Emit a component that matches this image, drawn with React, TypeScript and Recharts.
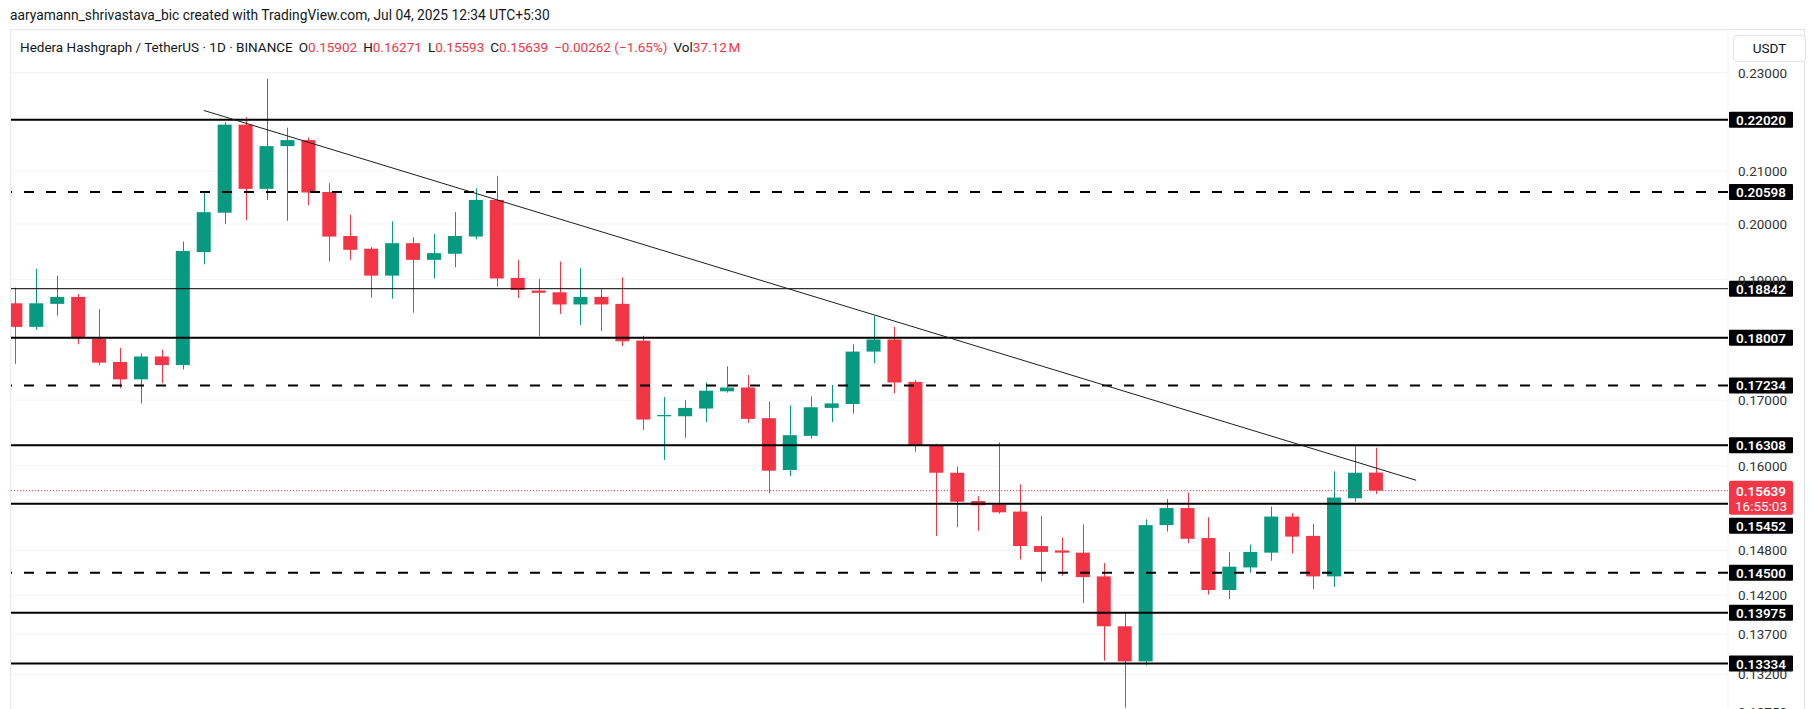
import React from 'react';
import { ComposedChart, Bar, XAxis, YAxis, CartesianGrid, ReferenceLine } from 'recharts';

// HBAR/USDT daily candles (oldest first)
const opens = [
  0.1859, 0.1819, 0.1858, 0.187, 0.1799, 0.1761, 0.1733, 0.177, 0.1756, 0.1949,
  0.2021, 0.2192, 0.2066, 0.2149, 0.2161, 0.206, 0.1978, 0.1955, 0.1907, 0.1965,
  0.1935, 0.1946, 0.1977, 0.2045, 0.1903, 0.1881, 0.1878, 0.1857, 0.187, 0.1858,
  0.1796, 0.1675, 0.1675, 0.1687, 0.1714, 0.172, 0.1672, 0.1594, 0.1645, 0.1688,
  0.1694, 0.1778, 0.1798, 0.1729, 0.1631, 0.159, 0.1549, 0.1544, 0.1534, 0.1486,
  0.148, 0.1477, 0.1445, 0.138, 0.1336, 0.1515, 0.1539, 0.1497, 0.1427, 0.1457,
  0.1477, 0.1527, 0.15, 0.1445, 0.1553, 0.15902,
];
const highs = [
  0.1886, 0.1919, 0.1907, 0.1875, 0.1849, 0.1784, 0.1775, 0.1781, 0.1968, 0.2062,
  0.2197, 0.2207, 0.2287, 0.2186, 0.2166, 0.2077, 0.2017, 0.1958, 0.2005, 0.1976,
  0.1982, 0.2022, 0.2067, 0.2091, 0.1935, 0.1901, 0.1932, 0.192, 0.1884, 0.1904,
  0.1804, 0.1705, 0.17, 0.1728, 0.1754, 0.174, 0.1698, 0.1692, 0.1706, 0.1724,
  0.179, 0.1838, 0.1819, 0.1732, 0.1633, 0.1599, 0.1556, 0.1635, 0.1573, 0.1528,
  0.1498, 0.1516, 0.1463, 0.1398, 0.1523, 0.1552, 0.1561, 0.1526, 0.1478, 0.1488,
  0.1541, 0.1532, 0.1517, 0.1592, 0.1629, 0.16271,
];
const lows = [
  0.1758, 0.1814, 0.1838, 0.179, 0.1756, 0.1719, 0.1695, 0.1727, 0.1749, 0.1927,
  0.2, 0.2007, 0.2045, 0.2006, 0.2035, 0.1932, 0.1935, 0.1869, 0.1867, 0.1843,
  0.1902, 0.1922, 0.1972, 0.1888, 0.1868, 0.1803, 0.1841, 0.1822, 0.1812, 0.1787,
  0.1654, 0.1609, 0.1642, 0.1666, 0.1712, 0.1665, 0.156, 0.1585, 0.1641, 0.1666,
  0.1679, 0.1759, 0.1711, 0.1621, 0.15, 0.1512, 0.1507, 0.1531, 0.1468, 0.1438,
  0.1446, 0.141, 0.1337, 0.128, 0.1331, 0.1506, 0.149, 0.1421, 0.1415, 0.145,
  0.1466, 0.1476, 0.1428, 0.1431, 0.1548, 0.15593,
];
const closes = [
  0.1819, 0.1859, 0.187, 0.18, 0.176, 0.1733, 0.177, 0.1756, 0.1951, 0.2022,
  0.2192, 0.2066, 0.2149, 0.2161, 0.2059, 0.1977, 0.1953, 0.1907, 0.1965, 0.1935,
  0.1947, 0.1978, 0.2045, 0.1902, 0.1882, 0.1877, 0.1857, 0.187, 0.1857, 0.1795,
  0.167, 0.1677, 0.1688, 0.1715, 0.172, 0.1671, 0.1593, 0.1646, 0.1689, 0.1695,
  0.1778, 0.1798, 0.1728, 0.1631, 0.159, 0.1548, 0.1543, 0.1533, 0.1486, 0.1478,
  0.1477, 0.1444, 0.138, 0.1336, 0.1515, 0.1539, 0.1496, 0.1427, 0.1458, 0.1478,
  0.1527, 0.1499, 0.1445, 0.1554, 0.159, 0.15639,
];

const priceTicks = [0.1275, 0.132, 0.137, 0.142, 0.148, 0.154, 0.16, 0.17, 0.18, 0.19, 0.2, 0.21, 0.22, 0.23];
// tick labels that sit fully behind a level tag on the price scale
const coveredTicks = [0.22, 0.18, 0.154];
const gridDays = [1, 4, 7, 10, 13, 16, 19, 22, 25, 28, 32, 35, 38, 41, 44, 47, 50, 53, 56, 59, 62, 65, 68, 71, 74, 77, 80];

// drawn support / resistance levels
const solidLevels = [0.2202, 0.18007, 0.16308, 0.15452, 0.13975, 0.13334];
const thinLevels = [0.18842];
const dashedLevels = [0.20598, 0.17234, 0.145];
const lastPrice = 0.15639;
const countdown = '16:55:03';
const trendStart = { day: 8.98, price: 0.2221 };
const trendEnd = { day: 66.9, price: 0.1579 };

const legendFields = [
  ['O', '0.15902'],
  ['H', '0.16271'],
  ['L', '0.15593'],
  ['C', '0.15639'],
];
const legendChange = '\u22120.00262 (\u22121.65%)';
const legendVol = '37.12\u202fM';

const GREEN = '#089981';
const RED = '#F23645';
const FONT = 'Roboto, "Noto Sans", sans-serif';

const data = opens.map((o, i) => ({
  day: i,
  open: o,
  high: highs[i],
  low: lows[i],
  close: closes[i],
  range: [lows[i], highs[i]],
}));

const Candle = (props: any) => {
  const { x, y, width, height, payload } = props;
  if (!payload || !height) return null;
  const { open, close, high, low } = payload;
  // the bar spans high..low on a log axis, so place open/close inside it the same way
  const span = Math.log(high) - Math.log(low);
  const py = (p: number) => y + ((Math.log(high) - Math.log(p)) / span) * height;
  const color = close >= open ? GREEN : RED;
  const top = py(Math.max(open, close));
  const bottom = py(Math.min(open, close));
  const cx = Math.round(x + width / 2) + 0.5;
  return (
    <g>
      <line x1={cx} x2={cx} y1={y} y2={y + height} stroke={color} strokeWidth={1} />
      <rect x={x} y={top} width={width} height={Math.max(bottom - top, 1)} fill={color} />
    </g>
  );
};

const PriceTick = (props: any) => {
  const { x, y, payload } = props;
  if (coveredTicks.includes(payload.value)) return <g />;
  return (
    <text x={x} y={y + 5} textAnchor="start" fill="#333" fontSize={13.5} fontFamily={FONT}>
      {payload.value.toFixed(5)}
    </text>
  );
};

const LevelTag = (props: any) => {
  const { viewBox, text, shift = 0 } = props;
  if (!viewBox) return null;
  const x = viewBox.x + viewBox.width + 1;
  const y = viewBox.y + shift;
  return (
    <g>
      <rect x={x} y={y - 8} width={64} height={16} fill="#000" rx={1} />
      <text x={x + 32} y={y + 5} textAnchor="middle" fill="#fff" fontSize={13.5} fontWeight={600} fontFamily={FONT}>
        {text}
      </text>
    </g>
  );
};

const PriceTag = (props: any) => {
  const { viewBox } = props;
  if (!viewBox) return null;
  const x = viewBox.x + viewBox.width + 1;
  const y = viewBox.y;
  return (
    <g>
      <rect x={x} y={y - 10} width={64} height={34} fill={RED} rx={2} />
      <text x={x + 32} y={y + 5} textAnchor="middle" fill="#fff" fontSize={13.5} fontWeight={600} fontFamily={FONT}>
        {lastPrice.toFixed(5)}
      </text>
      <text x={x + 32} y={y + 20} textAnchor="middle" fill="#fff" fontSize={13.5} fontFamily={FONT}>
        {countdown}
      </text>
    </g>
  );
};

export default function App() {
  return (
    <div
      style={{
        position: 'relative',
        width: 1814,
        height: 709,
        overflow: 'hidden',
        background: '#fff',
        fontFamily: FONT,
        color: '#131722',
      }}
    >
      <style>{'html,body{margin:0;padding:0;overflow:hidden;background:#fff;}'}</style>

      <div style={{ position: 'absolute', left: 10, top: 7, fontSize: 13.8, lineHeight: '16px', whiteSpace: 'nowrap' }}>
        aaryamann_shrivastava_bic created with TradingView.com, Jul 04, 2025 12:34 UTC+5:30
      </div>

      <div
        style={{
          position: 'absolute',
          left: 10,
          top: 29,
          width: 1795,
          height: 700,
          border: '1px solid #e0e3eb',
          boxSizing: 'border-box',
        }}
      />

      <div style={{ position: 'absolute', left: 0, top: 0 }}>
        <ComposedChart width={1814} height={730} data={data} margin={{ top: 30, right: 11, bottom: 0, left: 11 }}>
          <CartesianGrid stroke="#f0f3fa" />
          <XAxis
            dataKey="day"
            type="number"
            domain={[-0.23, 81.8]}
            ticks={gridDays}
            allowDataOverflow
            tick={false}
            tickLine={false}
            axisLine={false}
            height={0}
          />
          <YAxis
            orientation="right"
            width={75}
            scale="log"
            domain={[0.12541, 0.2392]}
            allowDataOverflow
            ticks={priceTicks}
            interval={0}
            axisLine={false}
            tickLine={false}
            tickMargin={4}
            tick={<PriceTick />}
          />
          <Bar dataKey="range" barSize={14} isAnimationActive={false} shape={(p: any) => <Candle {...p} />} />
          <ReferenceLine y={lastPrice} stroke={RED} strokeWidth={1} strokeDasharray="1 2" label={<PriceTag />} />
          {solidLevels.map((v) => (
            <ReferenceLine
              key={`s${v}`}
              y={v}
              stroke="#000"
              strokeWidth={2}
              label={<LevelTag text={v.toFixed(5)} shift={v === 0.15452 ? 22 : 0} />}
            />
          ))}
          {thinLevels.map((v) => (
            <ReferenceLine key={`t${v}`} y={v} stroke="#000" strokeWidth={1} label={<LevelTag text={v.toFixed(5)} />} />
          ))}
          {dashedLevels.map((v) => (
            <ReferenceLine
              key={`d${v}`}
              y={v}
              stroke="#000"
              strokeWidth={2}
              strokeDasharray="10 12"
              label={<LevelTag text={v.toFixed(5)} />}
            />
          ))}
          <ReferenceLine
            segment={[
              { x: trendStart.day, y: trendStart.price },
              { x: trendEnd.day, y: trendEnd.price },
            ]}
            stroke="#1e1e1e"
            strokeWidth={1}
          />
        </ComposedChart>
      </div>

      <div
        style={{
          position: 'absolute',
          left: 20,
          top: 39,
          fontSize: 13.5,
          lineHeight: '16px',
          whiteSpace: 'nowrap',
          display: 'flex',
          gap: 6,
        }}
      >
        <span>Hedera Hashgraph / TetherUS · 1D · BINANCE</span>
        {legendFields.map(([k, v]) => (
          <span key={k}>
            {k}
            <span style={{ color: RED }}>{v}</span>
          </span>
        ))}
        <span style={{ color: RED }}>{legendChange}</span>
        <span>
          Vol<span style={{ color: RED }}>{legendVol}</span>
        </span>
      </div>

      <div
        style={{
          position: 'absolute',
          left: 1733,
          top: 35,
          width: 73,
          height: 27,
          border: '1px solid #e0e3eb',
          borderRadius: 4,
          boxSizing: 'border-box',
          background: '#fff',
          fontSize: 13.5,
          lineHeight: '25px',
          textAlign: 'center',
        }}
      >
        USDT
      </div>
    </div>
  );
}
